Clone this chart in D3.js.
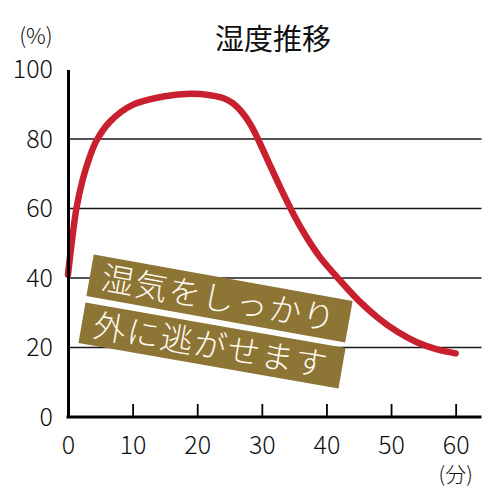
<!DOCTYPE html>
<html>
<head>
<meta charset="utf-8">
<script src="https://cdn.jsdelivr.net/npm/d3@7"></script>
<style>
  html, body { margin: 0; padding: 0; background: #fff; }
  svg { display: block; }
  text { font-family: "Noto Sans CJK JP", "Noto Sans", sans-serif; }
</style>
</head>
<body>
<svg id="chart" width="500" height="500"></svg>
<script>
// ---- data ----
const title = "湿度推移";
const minutes  = [0, 0.5, 1.3, 2.3, 3.3, 4.4, 6.5, 10, 15, 19, 22, 24, 25.5, 27, 28.3, 29.4, 31, 33, 35, 37, 39, 42, 45, 48, 51, 54, 57, 60];
const humidity = [41, 49, 60, 68.5, 74.5, 79.5, 85, 89.8, 92.3, 93, 92.6, 91.8, 90.3, 87.5, 84, 80, 73.5, 65.5, 58, 51.5, 46, 39.5, 33.5, 28.5, 24.5, 21.5, 19.5, 18.3];
const xTicks = [0, 10, 20, 30, 40, 50, 60];
const yTicks = [0, 20, 40, 60, 80, 100];
const gridValues = [20, 40, 60, 80];
const xAxisEnd = 64;
const yUnit = "(%)";
const xUnit = "(分)";
const bannerLines = ["湿気をしっかり", "外に逃がせます"];

// ---- layout ----
const svg = d3.select("#chart");
const x = d3.scaleLinear().domain([0, xAxisEnd]).range([68, 481.5]);
const y = d3.scaleLinear().domain([0, 100]).range([417, 69.5]);

// gridlines
svg.append("g").selectAll("line").data(gridValues).join("line")
  .attr("x1", x(0)).attr("x2", x(xAxisEnd))
  .attr("y1", d => y(d)).attr("y2", d => y(d))
  .attr("stroke", "#1a1a1a").attr("stroke-width", 1.4);

// curve
const line = d3.line()
  .x((d, i) => x(minutes[i]))
  .y(d => y(d))
  .curve(d3.curveCatmullRom.alpha(0.5));
svg.append("path")
  .attr("d", line(humidity))
  .attr("fill", "none")
  .attr("stroke", "#c8202f")
  .attr("stroke-width", 6.5)
  .attr("stroke-linecap", "round")
  .attr("stroke-linejoin", "round");

// banners
const banners = [
  { cx: 219.5, cy: 298.5, w: 263, h: 42, a: 10.2 },
  { cx: 212,   cy: 345.5, w: 264, h: 41, a: 9.9 }
];
banners.forEach((b, i) => {
  const g = svg.append("g").attr("transform", `translate(${b.cx},${b.cy}) rotate(${b.a})`);
  g.append("rect").attr("x", -b.w / 2).attr("y", -b.h / 2).attr("width", b.w).attr("height", b.h)
    .attr("fill", "#8d7535");
  g.append("text").attr("x", -b.w / 2 + 12).attr("y", 0)
    .attr("dy", "0.36em")
    .attr("fill", "#fffaf0")
    .attr("font-size", 32.5)
    .attr("font-weight", 300)
    .attr("letter-spacing", 1.5)
    .text(bannerLines[i]);
});

// y axis
const yAxis = svg.append("g").attr("transform", `translate(${x(0)},0)`)
  .call(d3.axisLeft(y).tickValues(yTicks).tickSize(0).tickSizeOuter(0).tickPadding(15));
yAxis.select(".domain").attr("stroke", "#000").attr("stroke-width", 3);
yAxis.selectAll("text").attr("font-size", 25).attr("fill", "#111").attr("font-weight", 300)
  .attr("font-family", "'Noto Sans CJK JP', sans-serif");

// x axis
const xAxis = svg.append("g").attr("transform", `translate(0,${y(0)})`)
  .call(d3.axisBottom(x).tickValues(xTicks).tickSize(-13).tickSizeOuter(0).tickPadding(19));
xAxis.select(".domain").remove();
xAxis.append("line").attr("x1", x(0) - 1.5).attr("x2", x(xAxisEnd)).attr("y1", 0).attr("y2", 0)
  .attr("stroke", "#000").attr("stroke-width", 3);
xAxis.selectAll(".tick line").attr("stroke", "#000").attr("stroke-width", 1.8)
  .filter(d => d === 0).remove();
xAxis.selectAll("text").attr("font-size", 25).attr("fill", "#111").attr("font-weight", 300)
  .attr("font-family", "'Noto Sans CJK JP', sans-serif");

// units & title
svg.append("text").attr("x", 36).attr("y", 44).attr("text-anchor", "middle")
  .attr("font-size", 22).attr("font-weight", 300).attr("fill", "#111").text(yUnit);
svg.append("text").attr("x", x(60)).attr("y", 482).attr("text-anchor", "middle")
  .attr("font-size", 21).attr("font-weight", 300).attr("fill", "#111").text(xUnit);
svg.append("text").attr("x", 273).attr("y", 50).attr("text-anchor", "middle")
  .attr("font-size", 29).attr("fill", "#111").text(title);
</script>
</body>
</html>
